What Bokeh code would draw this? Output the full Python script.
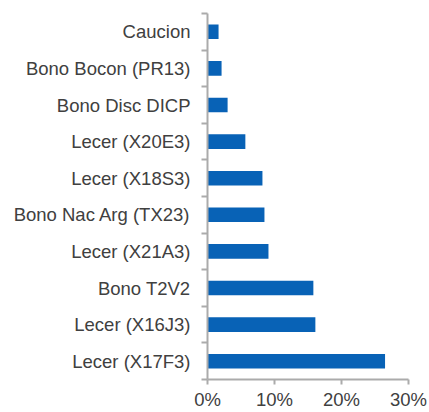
from bokeh.plotting import figure
from bokeh.models import FixedTicker, NumeralTickFormatter, Range1d, ColumnDataSource
from bokeh.embed import file_html
from bokeh.resources import INLINE

# Categories listed from top to bottom
categories = ["Caucion", "Bono Bocon (PR13)", "Bono Disc DICP", "Lecer (X20E3)",
              "Lecer (X18S3)", "Bono Nac Arg (TX23)", "Lecer (X21A3)", "Bono T2V2",
              "Lecer (X16J3)", "Lecer (X17F3)"]
values = [0.0165, 0.021, 0.030, 0.0565, 0.082, 0.085, 0.091, 0.158, 0.161, 0.265]
x_ticks = [0.0, 0.1, 0.2, 0.3]

n = len(categories)
ypos = [n - 1 - i for i in range(n)]
bounds = [i - 0.5 for i in range(n + 1)]
src = ColumnDataSource(dict(y=ypos, v=values, name=categories))

p = figure(width=429, height=412, output_backend="svg", toolbar_location=None,
           x_range=Range1d(0, 0.30), y_range=Range1d(-0.5, n - 0.5),
           min_border_left=207, min_border_right=21, min_border_top=13, min_border_bottom=0)
p.hbar(y="y", right="v", left=0, height=0.4, source=src, color="#0862B6", line_color=None)

p.outline_line_color = None
p.xgrid.visible = False
p.ygrid.visible = False

LABEL = "#404040"
AXIS = "#ABABAB"
FONT = "Liberation Sans"

# y axis: labels at bar centres, tick marks at category boundaries
yax = p.yaxis[0]
yax.ticker = FixedTicker(ticks=ypos, minor_ticks=bounds)
yax.major_label_overrides = {y: c for y, c in zip(ypos, categories)}
yax.major_tick_out = 0
yax.major_tick_in = 0
yax.major_tick_line_color = None
yax.minor_tick_out = 6
yax.minor_tick_in = 0
yax.minor_tick_line_color = AXIS
yax.minor_tick_line_width = 2
yax.axis_line_color = AXIS
yax.axis_line_width = 2
yax.major_label_text_font = FONT
yax.major_label_text_font_size = "18.5px"
yax.major_label_text_color = LABEL
yax.major_label_standoff = 11

xax = p.xaxis[0]
xax.ticker = FixedTicker(ticks=x_ticks, minor_ticks=[])
xax.formatter = NumeralTickFormatter(format="0%")
xax.major_tick_out = 5
xax.major_tick_in = 0
xax.major_tick_line_color = AXIS
xax.major_tick_line_width = 2
xax.minor_tick_line_color = None
xax.axis_line_color = AXIS
xax.axis_line_width = 2
xax.major_label_text_font = FONT
xax.major_label_text_font_size = "18.5px"
xax.major_label_text_color = LABEL
xax.major_label_standoff = 4

open("out.html", "w").write(file_html(p, INLINE))
